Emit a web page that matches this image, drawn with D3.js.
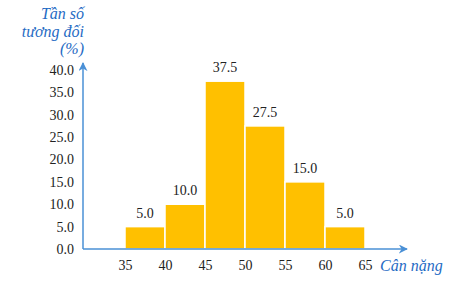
<!DOCTYPE html>
<html>
<head>
<meta charset="utf-8">
<script src="https://cdn.jsdelivr.net/npm/d3@7"></script>
<style>
  body { margin: 0; background: #fff; }
  svg { display: block; }
</style>
</head>
<body>
<svg id="chart" width="464" height="288" font-family="Liberation Serif, serif"></svg>
<script>
// data
var binStarts = [35, 40, 45, 50, 55, 60];
var binWidth = 5;
var freqs = [5.0, 10.0, 37.5, 27.5, 15.0, 5.0];
var xTicks = [35, 40, 45, 50, 55, 60, 65];
var yTicks = [0, 5, 10, 15, 20, 25, 30, 35, 40];
var yTitle = ['Tần số', 'tương đối', '(%)'];
var xTitle = 'Cân nặng';

var axisColor = '#4A90D6';
var textBlue = '#1F6BC4';
var barColor = '#FFC000';
var font = 'Liberation Serif, serif';

var svg = d3.select('#chart');

// scales
var x = d3.scaleLinear().domain([35, 65]).range([125, 365]);
var y = d3.scaleLinear().domain([0, 40]).range([249, 70]);
var x0 = 83;

// arrow marker
svg.append('defs').append('marker')
    .attr('id', 'arrow')
    .attr('viewBox', '0 0 10 10')
    .attr('refX', 9)
    .attr('refY', 5)
    .attr('markerWidth', 9)
    .attr('markerHeight', 9)
    .attr('markerUnits', 'userSpaceOnUse')
    .attr('orient', 'auto')
  .append('path')
    .attr('d', 'M0,0 L10,5 L0,10 L3,5 Z')
    .attr('fill', axisColor);

// bars
svg.append('g')
    .selectAll('rect')
    .data(freqs).enter()
    .append('rect')
        .attr('x', (d, i) => x(binStarts[i]))
        .attr('y', d => y(d))
        .attr('width', (d, i) => x(binStarts[i] + binWidth) - x(binStarts[i]))
        .attr('height', d => y(0) - y(d))
        .attr('fill', barColor)
        .attr('stroke', '#fff')
        .attr('stroke-width', 1.5);

// value labels
svg.append('g')
    .selectAll('text')
    .data(freqs).enter()
    .append('text')
        .attr('x', (d, i) => x(binStarts[i] + binWidth / 2))
        .attr('y', d => y(d) - 9)
        .attr('text-anchor', 'middle')
        .attr('font-family', font)
        .attr('font-size', 14)
        .attr('fill', '#222')
        .text(d => d.toFixed(1));

// y axis
svg.append('line')
    .attr('x1', x0).attr('y1', y(0))
    .attr('x2', x0).attr('y2', 63)
    .attr('stroke', axisColor)
    .attr('stroke-width', 1.5)
    .attr('marker-end', 'url(#arrow)');

var yAxis = d3.axisLeft(y).tickValues(yTicks).tickSize(0).tickPadding(9)
    .tickFormat(d => d.toFixed(1));
var gy = svg.append('g').attr('transform', 'translate(' + x0 + ',0)').call(yAxis);
gy.attr('font-family', font).attr('font-size', 14);
gy.select('.domain').remove();
gy.selectAll('text').attr('fill', '#222');

// x axis
svg.append('line')
    .attr('x1', x0).attr('y1', y(0))
    .attr('x2', 407).attr('y2', y(0))
    .attr('stroke', axisColor)
    .attr('stroke-width', 1.5)
    .attr('marker-end', 'url(#arrow)');

var xAxis = d3.axisBottom(x).tickValues(xTicks).tickSize(0).tickPadding(11);
var gx = svg.append('g').attr('transform', 'translate(0,' + y(0) + ')').call(xAxis);
gx.attr('font-family', font).attr('font-size', 14);
gx.select('.domain').remove();
gx.selectAll('text').attr('fill', '#222');

// titles
svg.append('text')
    .attr('x', 380)
    .attr('y', 271)
    .attr('font-family', font)
    .attr('font-size', 16)
    .attr('font-style', 'italic')
    .attr('fill', textBlue)
    .text(xTitle);

svg.append('g')
    .selectAll('text')
    .data(yTitle).enter()
    .append('text')
        .attr('x', 84)
        .attr('y', (d, i) => 19 + i * 17.5)
        .attr('text-anchor', 'end')
        .attr('font-family', font)
        .attr('font-size', 16)
        .attr('font-style', 'italic')
        .attr('fill', textBlue)
        .text(d => d);
</script>
</body>
</html>
